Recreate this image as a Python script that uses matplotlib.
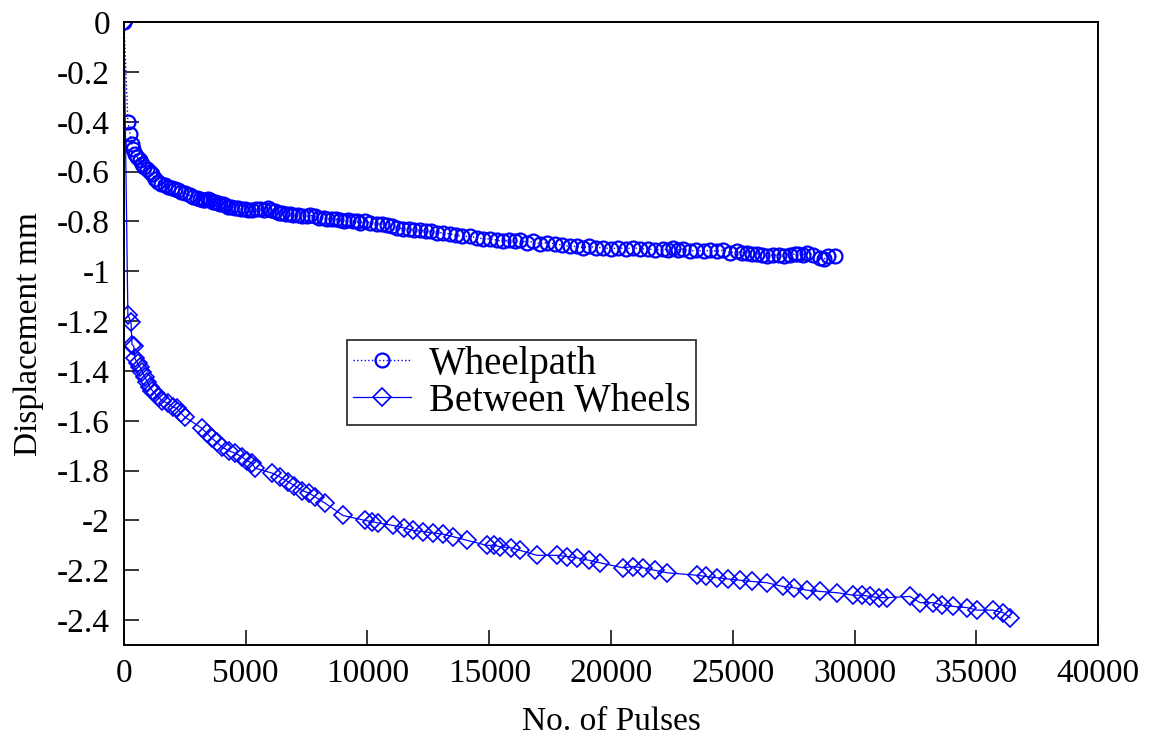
import matplotlib
matplotlib.use("Agg")
import matplotlib.pyplot as plt
from matplotlib.ticker import FuncFormatter

# Wheelpath
wheel_x = [0, 160, 250, 330, 370, 450, 530, 640, 740, 840, 940, 1050, 1150, 1280,
           1400, 1540, 1680, 1820, 1970, 2100, 2220, 2360, 2500, 2700, 2850, 3000,
           3120, 3250, 3330, 3450, 3540, 3650, 3740, 3850, 3950, 4050, 4150, 4280,
           4400, 4550, 4680, 4800, 4950, 5100, 5260, 5420, 5600, 5750, 5920, 6050,
           6200, 6350, 6490, 6650, 6800, 6950, 7150, 7300, 7500, 7650, 7840, 8000,
           8200, 8350, 8540, 8700, 8870, 9050, 9200, 9400, 9550, 9700, 9900, 10100,
           10390, 10600, 10800, 11000, 11210, 11450, 11700, 11900, 12150, 12400,
           12600, 12850, 13100, 13400, 13650, 13900, 14210, 14500, 14750, 15050,
           15320, 15550, 15800, 16050, 16260, 16550, 16800, 17100, 17370, 17700,
           18000, 18300, 18600, 18850, 19100, 19400, 19670, 20000, 20300, 20600,
           20900, 21200, 21500, 21800, 22130, 22350, 22550, 22750, 22960, 23250,
           23500, 23800, 24070, 24350, 24600, 24900, 25170, 25400, 25580, 25800,
           26000, 26200, 26400, 26650, 26900, 27100, 27350, 27550, 27700, 27900,
           28050, 28300, 28580, 28750, 28900, 29200]
wheel_y = [0, -0.40, -0.45, -0.49, -0.51, -0.53, -0.54, -0.555, -0.57, -0.58, -0.59,
           -0.60, -0.61, -0.63, -0.64, -0.65, -0.655, -0.66, -0.665, -0.67, -0.675,
           -0.68, -0.685, -0.695, -0.70, -0.705, -0.71, -0.712, -0.715, -0.71, -0.715,
           -0.72, -0.72, -0.725, -0.73, -0.73, -0.735, -0.74, -0.74, -0.745, -0.745,
           -0.75, -0.75, -0.755, -0.755, -0.75, -0.75, -0.755, -0.745, -0.755, -0.76,
           -0.765, -0.765, -0.77, -0.77, -0.775, -0.775, -0.78, -0.78, -0.775, -0.78,
           -0.785, -0.785, -0.79, -0.79, -0.79, -0.795, -0.80, -0.795, -0.80, -0.80,
           -0.805, -0.80, -0.805, -0.81, -0.81, -0.815, -0.82, -0.825, -0.83, -0.83,
           -0.835, -0.835, -0.84, -0.84, -0.845, -0.845, -0.85, -0.855, -0.86, -0.86,
           -0.865, -0.87, -0.87, -0.875, -0.88, -0.875, -0.88, -0.875, -0.885, -0.88,
           -0.89, -0.885, -0.89, -0.895, -0.90, -0.90, -0.905, -0.90, -0.905, -0.905,
           -0.91, -0.905, -0.91, -0.905, -0.91, -0.91, -0.915, -0.91, -0.915, -0.905,
           -0.915, -0.91, -0.92, -0.915, -0.92, -0.915, -0.92, -0.915, -0.925, -0.92,
           -0.925, -0.925, -0.93, -0.93, -0.935, -0.94, -0.935, -0.935, -0.94, -0.935,
           -0.93, -0.93, -0.935, -0.925, -0.935, -0.945, -0.95, -0.94, -0.94]

# Between Wheels
between_x = [0, 160, 290, 330, 400, 450, 560, 660, 760, 860, 960, 1070, 1170, 1270,
             1420, 1560, 1810, 2000, 2180, 2350, 2500, 3200, 3400, 3600, 3800, 4020,
             4300, 4560, 4850, 5050, 5260, 5380, 6080, 6400, 6740, 7000, 7310, 7600,
             7840, 8250, 8990, 9900, 10200, 10430, 11050, 11500, 11870, 12300, 12690,
             13100, 13510, 14090, 14900, 15200, 15440, 15900, 16260, 16960, 17780,
             18200, 18600, 19100, 19550, 20490, 20900, 21320, 21800, 22300, 23530,
             23900, 24350, 24800, 25300, 25800, 26400, 27060, 27500, 28050, 28580,
             29280, 29940, 30300, 30630, 31000, 31330, 32280, 32690, 33220, 33600,
             34040, 34620, 35030, 35690, 36100, 36390]
between_y = [0, -1.175, -1.205, -1.295, -1.30, -1.35, -1.37, -1.385, -1.405, -1.425,
             -1.445, -1.465, -1.48, -1.49, -1.505, -1.52, -1.53, -1.545, -1.55, -1.57,
             -1.585, -1.63, -1.65, -1.67, -1.685, -1.705, -1.72, -1.73, -1.745, -1.76,
             -1.77, -1.79, -1.81, -1.825, -1.845, -1.86, -1.88, -1.89, -1.905, -1.93,
             -1.98, -2.0, -2.005, -2.01, -2.02, -2.03, -2.04, -2.045, -2.05, -2.055,
             -2.065, -2.08, -2.10, -2.10, -2.105, -2.11, -2.12, -2.14, -2.14, -2.145,
             -2.15, -2.16, -2.17, -2.19, -2.185, -2.19, -2.20, -2.21, -2.22, -2.225,
             -2.23, -2.235, -2.24, -2.245, -2.25, -2.265, -2.27, -2.28, -2.285, -2.29,
             -2.30, -2.30, -2.305, -2.31, -2.31, -2.305, -2.33, -2.33, -2.34, -2.345,
             -2.35, -2.36, -2.36, -2.37, -2.39]

x_ticks = list(range(0, 40001, 5000))
y_ticks = [0, -0.2, -0.4, -0.6, -0.8, -1, -1.2, -1.4, -1.6, -1.8, -2, -2.2, -2.4]

plt.rcParams["font.family"] = ["Liberation Serif", "DejaVu Serif"]
plt.rcParams["axes.unicode_minus"] = False

fig = plt.figure(figsize=(11.5, 7.38), dpi=100)
ax = fig.add_axes([0.1078, 0.126, 0.847, 0.844])

blue = "#0000ff"
ax.plot(wheel_x, wheel_y, linestyle=":", linewidth=1.0, color=blue,
        marker="o", markersize=10, markerfacecolor="none", markeredgewidth=1.6,
        label="Wheelpath")
ax.plot(between_x, between_y, linestyle="-", linewidth=0.9, color=blue,
        marker="D", markersize=9, markerfacecolor="none", markeredgewidth=1.2,
        label="Between Wheels")

ax.set_xlim(0, 40000)
ax.set_ylim(-2.5, 0)
ax.set_xticks(x_ticks)
ax.set_yticks(y_ticks)
ax.yaxis.set_major_formatter(FuncFormatter(lambda v, p: "%g" % v))
ax.tick_params(direction="in", length=11, width=1.1, labelsize=24, pad=10,
               top=False, right=False)
for s in ax.spines.values():
    s.set_linewidth(1.4)

ax.set_xlabel("No. of Pulses", fontsize=24, labelpad=12)
ax.set_ylabel("Displacement mm", fontsize=24, labelpad=9)

leg = ax.legend(loc="upper left", bbox_to_anchor=(0.229, 0.49), fontsize=28,
                frameon=True, fancybox=False, borderpad=0.15, handlelength=1.5,
                labelspacing=0.0, borderaxespad=0, handletextpad=0.45)
leg.get_frame().set_edgecolor("black")
leg.get_frame().set_linewidth(1.3)

fig.savefig("out.png", dpi=100)
